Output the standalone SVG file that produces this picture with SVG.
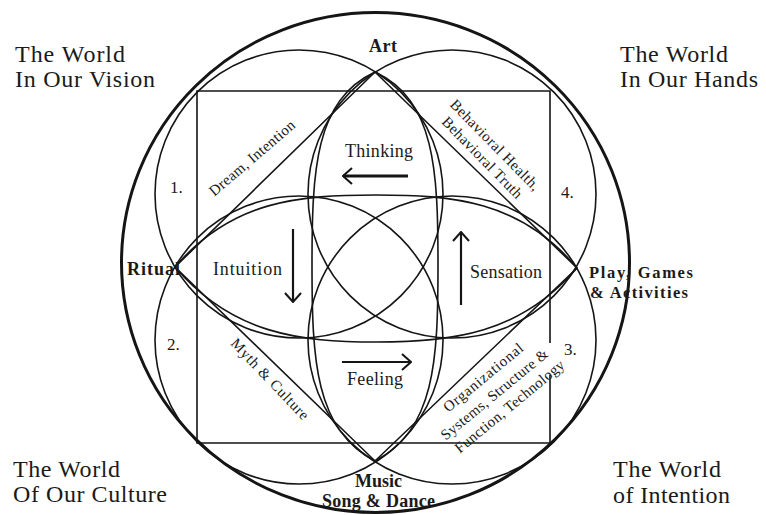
<svg xmlns="http://www.w3.org/2000/svg" width="766" height="515" viewBox="0 0 766 515">
<defs>
<style>
.ln{fill:none;stroke:#151515;stroke-width:1.6}
.thick{fill:none;stroke:#151515;stroke-width:3}
.arw{fill:none;stroke:#151515;stroke-width:2.2;marker-end:url(#ah)}
.t{font-family:"Liberation Serif","Times New Roman",serif;fill:#1a1a1a}
.title{font-size:24px}
.lbl{font-size:18px}
.pl{font-size:16.5px}
.b{font-weight:bold}
.sm{font-size:15px}
.num{font-size:17px}
</style>
<marker id="ah" viewBox="0 0 12 18" refX="11" refY="9" markerWidth="12" markerHeight="18" markerUnits="userSpaceOnUse" orient="auto"><path d="M2,1 L11,9 L2,17" fill="none" stroke="#151515" stroke-width="2"/></marker>
</defs>
<rect width="766" height="515" fill="#fff"/>

<g id="outer-circle"><ellipse class="thick" cx="375.5" cy="262.5" rx="254" ry="250"/></g>
<g id="square"><path class="ln" d="M550,343 V91 H197 V443 H550 V375"/></g>
<g id="circle-1"><circle class="ln" cx="299" cy="194" r="144"/></g>
<g id="circle-2"><circle class="ln" cx="299" cy="340" r="144"/></g>
<g id="circle-3"><circle class="ln" cx="452" cy="340" r="144"/></g>
<g id="circle-4"><circle class="ln" cx="452" cy="194" r="144"/></g>

<g id="connectors">
  <path class="ln" d="M375,72 C315,100 312,170 312,265 C312,360 315,430 375,461"/>
  <path class="ln" d="M375,72 C435,100 438,170 438,265 C438,360 435,430 375,461"/>
  <path class="ln" d="M175,267 C232,200 300,195 376,195 C452,195 520,200 577,268"/>
  <path class="ln" d="M175,267 C232,334 300,342 376,342 C452,342 520,334 577,268"/>
  <polygon class="ln" points="375,72 577,268 375,461 175,267"/>
  <path class="arw" style="stroke-width:3" d="M408,176 H343"/>
  <path class="arw" d="M293,229 V302"/>
  <path class="arw" d="M461,305 V232"/>
  <path class="arw" d="M342,362 H411"/>
</g>

<g id="world-vision"><text class="t title" x="15" y="62" textLength="110">The World</text><text class="t title" x="15" y="87" textLength="140">In Our Vision</text></g>
<g id="world-hands"><text class="t title" x="620" y="62" textLength="108">The World</text><text class="t title" x="620" y="87" textLength="138">In Our Hands</text></g>
<g id="world-culture"><text class="t title" x="13" y="477" textLength="107">The World</text><text class="t title" x="13" y="502" textLength="154">Of Our Culture</text></g>
<g id="world-intention"><text class="t title" x="613" y="477" textLength="108">The World</text><text class="t title" x="613" y="503" textLength="117">of Intention</text></g>

<g id="art"><text class="t lbl b" x="369" y="52" textLength="28">Art</text></g>
<g id="thinking"><text class="t lbl" x="345" y="157" textLength="68">Thinking</text></g>
<g id="intuition"><text class="t lbl" x="213" y="275" textLength="69">Intuition</text></g>
<g id="sensation"><text class="t lbl" x="470" y="278" textLength="72">Sensation</text></g>
<g id="feeling"><text class="t lbl" x="347" y="385" textLength="56">Feeling</text></g>
<g id="ritual"><text class="t lbl b" x="127" y="275" textLength="53">Ritual</text></g>
<g id="play"><text class="t pl b" x="589" y="278" textLength="104">Play, Games</text><text class="t pl b" x="590" y="298" textLength="98">&amp; Activities</text></g>
<g id="music"><text class="t lbl b" x="355" y="487" textLength="47">Music</text><text class="t lbl b" x="322" y="507" textLength="113">Song &amp; Dance</text></g>

<g id="n1"><text class="t num" x="170" y="193">1.</text></g>
<g id="n2"><text class="t num" x="167" y="350">2.</text></g>
<g id="n3"><text class="t num" x="564" y="355">3.</text></g>
<g id="n4"><text class="t num" x="561" y="198">4.</text></g>

<g id="dream" transform="translate(252,158) rotate(-40.5)"><text class="t sm" x="0" y="5" text-anchor="middle" textLength="108">Dream, Intention</text></g>
<g id="behavioral" transform="translate(488,152) rotate(45.5)"><text class="t sm" x="0" y="-5" text-anchor="middle" textLength="121">Behavioral Health,</text><text class="t sm" x="0" y="13" text-anchor="middle" textLength="108">Behavioral Truth</text></g>
<g id="myth" transform="translate(270,379) rotate(46.5)"><text class="t sm" x="0" y="5" text-anchor="middle" textLength="106">Myth &amp; Culture</text></g>
<g id="organizational" transform="translate(495,395) rotate(-39.5)"><text class="t sm" x="2" y="-16" text-anchor="middle" textLength="99">Organizational</text><text class="t sm" x="0" y="4" text-anchor="middle" textLength="134">Systems, Structure &amp;</text><text class="t sm" x="4" y="23" text-anchor="middle" textLength="137">Function, Technology</text></g>
</svg>
